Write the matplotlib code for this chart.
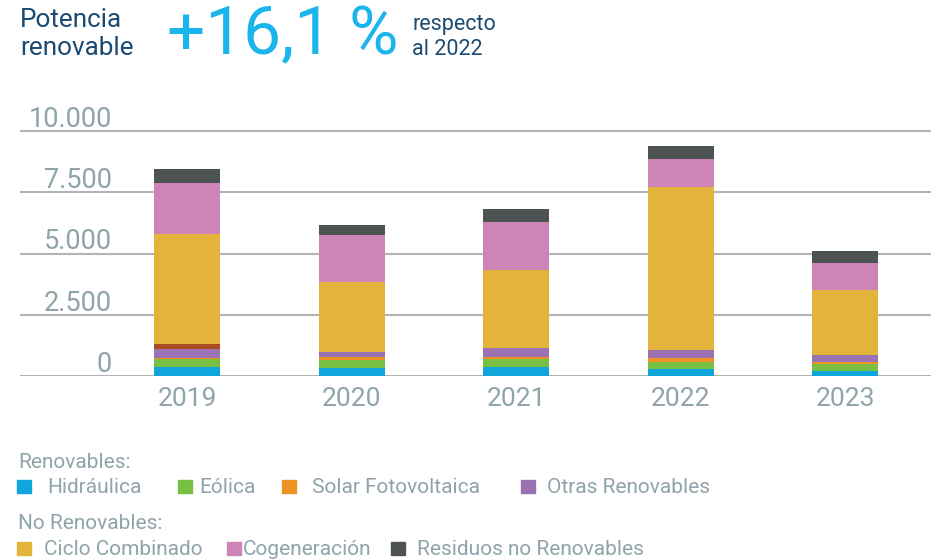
import matplotlib as mpl
mpl.use('Agg')
import matplotlib.pyplot as plt
from matplotlib.patches import Rectangle
import numpy as np

# data (MW)
years = ['2019', '2020', '2021', '2022', '2023']
hidraulica = [355, 340, 367, 286, 218]
eolica = [340, 327, 327, 286, 286]
solar = [40, 95, 82, 163, 82]
otras_renov = [355, 218, 380, 327, 286]
otros = [217, 0, 0, 0, 0]
ciclo = [4490, 2857, 3171, 6653, 2653]
cogeneracion = [2082, 1918, 1959, 1143, 1102]
residuos = [571, 408, 531, 531, 490]

series = [hidraulica, eolica, solar, otras_renov, otros, ciclo, cogeneracion, residuos]
colors = ['#10a6dc', '#78c043', '#ed9223', '#9b72b3', '#a94c22', '#e3b33c', '#cd85b8', '#4d5253']

yticks = [0, 2500, 5000, 7500, 10000]
ytick_labels = ['0', '2.500', '5.000', '7.500', '10.000']

grey = '#8fa3aa'
navy = '#1b4a72'
cyan = '#19b5ec'

plt.rcParams['font.family'] = ['Roboto', 'DejaVu Sans']

fig = plt.figure(figsize=(9.35, 5.59), dpi=100)
W, H = 935, 559
ax = fig.add_axes([20 / W, (H - 376) / H, 911 / W, 257 / H])

x = np.arange(len(years))
bottom = np.zeros(len(years))
for vals, c in zip(series, colors):
    ax.bar(x, vals, width=0.4, bottom=bottom, color=c, zorder=3)
    bottom += np.array(vals)

ax.set_xlim(-1.015, 4.52)
ax.set_ylim(0, 10500)
for v in yticks:
    ax.axhline(v, color='#b4b4b4', lw=1.5, zorder=1)
for v, lab in zip(yticks, ytick_labels):
    ax.annotate(lab, xy=(92 / 911, v), xycoords=ax.get_yaxis_transform(),
                xytext=(0, 3), textcoords='offset points', ha='right', va='baseline',
                fontsize=19.5, color=grey)

ax.set_yticks([])
ax.set_xticks(x)
ax.set_xticklabels(years, fontsize=19, color=grey)
ax.tick_params(axis='x', length=0, pad=8)
for s in ax.spines.values():
    s.set_visible(False)

# header
fig.text(20 / W, 1 - 27 / H, 'Potencia', fontsize=18.8, color=navy, va='baseline')
fig.text(20 / W, 1 - 55 / H, 'renovable', fontsize=18.8, color=navy, va='baseline')
fig.text(167 / W, 1 - 54 / H, '+16,1 %', fontsize=48.5, color=cyan, va='baseline')
fig.text(412 / W, 1 - 30 / H, 'respecto', fontsize=15.5, color=navy, va='baseline')
fig.text(412 / W, 1 - 55 / H, 'al 2022', fontsize=15.5, color=navy, va='baseline')

# legend
fig.text(18 / W, 1 - 468 / H, 'Renovables:', fontsize=15, color=grey, va='baseline')
fig.text(18 / W, 1 - 529 / H, 'No Renovables:', fontsize=15, color=grey, va='baseline')
row1 = [('Hidráulica', colors[0], 17, 47), ('Eólica', colors[1], 178, 199),
        ('Solar Fotovoltaica', colors[2], 282, 312), ('Otras Renovables', colors[3], 521, 547)]
row2 = [('Ciclo Combinado', colors[5], 17, 44), ('Cogeneración', colors[6], 227, 243),
        ('Residuos no Renovables', colors[7], 391, 417)]
for items, base in [(row1, 493), (row2, 555)]:
    for lab, c, sx, tx in items:
        fig.patches.append(Rectangle((sx / W, 1 - base / H), 14 / W, 13 / H,
                                     transform=fig.transFigure, color=c))
        fig.text(tx / W, 1 - base / H, lab, fontsize=15, color=grey, va='baseline')

plt.savefig('out.png', dpi=100)
